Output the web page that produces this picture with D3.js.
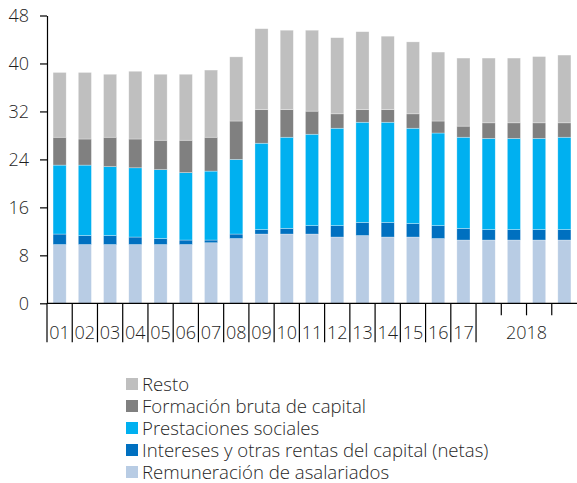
<!DOCTYPE html>
<html>
<head>
<meta charset="utf-8">
<script src="https://cdn.jsdelivr.net/npm/d3@7"></script>
<style>
  body { margin: 0; background: #fff; }
  svg text { font-family: "Open Sans", "DejaVu Sans", sans-serif; font-weight: 300; fill: #1f1f1f; }
</style>
</head>
<body>
<svg id="chart" width="577" height="483"></svg>
<script>
// bar keys: years 2001-2017, then four quarters of 2018
const periods = ["01","02","03","04","05","06","07","08","09","10","11","12","13","14","15","16","17","18T1","18T2","18T3","18T4"];
const yearLabels = ["01","02","03","04","05","06","07","08","09","10","11","12","13","14","15","16","17","2018"];
const yTicks = [0, 8, 16, 24, 32, 40, 48];

// series (% of GDP, stacked bottom -> top)
const remuneracion = [9.8,9.8,9.8,9.8,9.8,9.8,10.1,10.8,11.55,11.55,11.55,11.05,11.3,11.05,11.05,10.8,10.55,10.55,10.55,10.55,10.55];
const intereses    = [1.75,1.5,1.5,1.25,1.0,0.75,0.45,0.75,0.75,0.95,1.4,1.9,2.2,2.45,2.25,2.15,1.95,1.75,1.75,1.75,1.75];
const prestaciones = [11.5,11.75,11.5,11.55,11.5,11.25,11.5,12.45,14.4,15.2,15.25,16.25,16.7,16.7,15.9,15.45,15.2,15.2,15.2,15.2,15.4];
const formacion    = [4.65,4.35,4.9,4.8,4.9,5.4,5.65,6.4,5.6,4.6,3.85,2.4,2.1,2.1,2.4,2.0,1.85,2.6,2.6,2.6,2.4];
const resto        = [10.8,11.1,10.5,11.3,11.0,11.0,11.2,10.7,13.5,13.25,13.5,12.7,13.0,12.25,12.0,11.5,11.35,10.8,10.8,11.05,11.3];

const seriesNames = [
  "Remuneración de asalariados",
  "Intereses y otras rentas del capital (netas)",
  "Prestaciones sociales",
  "Formación bruta de capital",
  "Resto"
];
const seriesValues = [remuneracion, intereses, prestaciones, formacion, resto];
const seriesColors = ["#b8cce4", "#0070c0", "#00b0f0", "#808080", "#bfbfbf"];

const svg = d3.select("#chart");
const plotLeft = 47, plotRight = 577, plotTop = 15.5, plotBottom = 303.3;

const rows = periods.map((p, i) => {
  const row = { period: p };
  seriesNames.forEach((s, k) => { row[s] = seriesValues[k][i]; });
  return row;
});

const x = d3.scaleBand().domain(periods).range([plotLeft, plotRight])
  .paddingInner(0.48).paddingOuter(0.24);
const y = d3.scaleLinear().domain([0, 48]).range([plotBottom, plotTop]);
const color = d3.scaleOrdinal().domain(seriesNames).range(seriesColors);

const stacked = d3.stack().keys(seriesNames)(rows);

// bars
svg.append("g")
  .selectAll("g")
  .data(stacked)
  .join("g")
  .attr("fill", (d) => color(d.key))
  .selectAll("rect")
  .data((d) => d)
  .join("rect")
  .attr("x", (d) => x(d.data.period))
  .attr("y", (d) => y(d[1]))
  .attr("width", x.bandwidth())
  .attr("height", (d) => y(d[0]) - y(d[1]))
  .attr("stroke", "#fff")
  .attr("stroke-opacity", 0.5)
  .attr("stroke-width", 0.6);

// y axis
const yAxis = svg.append("g")
  .attr("transform", `translate(${plotLeft},0)`)
  .call(d3.axisLeft(y).tickValues(yTicks).tickSize(7).tickSizeOuter(0).tickPadding(11));
yAxis.selectAll("text").style("font-size", "18px").attr("dy", "0.36em");
yAxis.selectAll("line, path").attr("stroke", "#000").attr("stroke-width", 1.2);

// x axis line
svg.append("line")
  .attr("x1", plotLeft).attr("x2", plotRight)
  .attr("y1", y(0)).attr("y2", y(0))
  .attr("stroke", "#000").attr("stroke-width", 1.2);

// x ticks: long at year boundaries, short between 2018 quarters
const step = x.step();
const boundaries = d3.range(0, 21).map((i) => ({
  pos: plotLeft + i * step,
  long: i <= 17
}));
svg.append("g")
  .selectAll("line")
  .data(boundaries)
  .join("line")
  .attr("x1", (d) => d.pos).attr("x2", (d) => d.pos)
  .attr("y1", y(0))
  .attr("y2", (d) => (d.long ? y(0) + 39 : y(0) + 12))
  .attr("stroke", "#000")
  .attr("stroke-width", 1.2);

// year labels
svg.append("g")
  .selectAll("text")
  .data(yearLabels)
  .join("text")
  .attr("x", (d, i) => (i < 17 ? plotLeft + (i + 0.5) * step : (plotLeft + 17 * step + plotRight) / 2))
  .attr("y", 339)
  .attr("text-anchor", "middle")
  .style("font-size", "18px")
  .text((d) => d);

// legend (top -> bottom reversed stack order)
const legendItems = seriesNames.slice().reverse();
const legend = svg.append("g").attr("transform", "translate(126,377)");
const item = legend.selectAll("g")
  .data(legendItems)
  .join("g")
  .attr("transform", (d, i) => `translate(0,${i * 22})`);
item.append("rect")
  .attr("x", 0).attr("y", 1)
  .attr("width", 12).attr("height", 12)
  .attr("fill", (d) => color(d));
item.append("text")
  .attr("x", 16).attr("y", 13.5)
  .style("font-size", "18.6px")
  .text((d) => d);
</script>
</body>
</html>
